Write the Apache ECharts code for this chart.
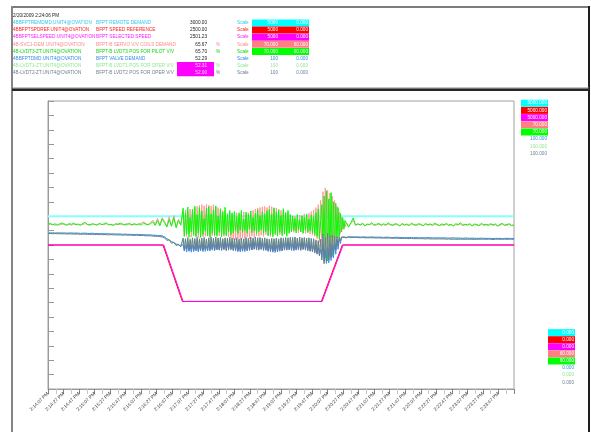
<!DOCTYPE html>
<html><head><meta charset="utf-8">
<script src="https://cdn.jsdelivr.net/npm/echarts@6/dist/echarts.min.js"></script>
<style>html,body{margin:0;padding:0;background:#fff}#c{width:591px;height:432px}</style>
</head><body><div id="c"></div>
<script>
// ---------- header / legend content ----------
const timestamp = '2/20/2009 2:24:06 PM';
const tags = ['4BBFPTREMDMD.UNIT4@OVATION','4BBFPTSPDREF.UNIT4@OVATION','4BBFPTSELSPEED.UNIT4@OVATION','4B-SVC1-DEM.UNIT4@OVATION','4B-LVDT3-ZT.UNIT4@OVATION','4BBFPTDMD.UNIT4@OVATION','4B-LVDT1-ZT.UNIT4@OVATION','4B-LVDT2-ZT.UNIT4@OVATION'];
const descs = ['BFPT REMOTE DEMAND','BFPT SPEED REFERENCE','BFPT SELECTED SPEED','BFPT-B SERVO V/V COILS DEMAND','BFPT-B LVDT3 POS FOR PILOT V/V','BFPT VALVE DEMAND','BFPT-B LVDT1 POS FOR OPER V/V','BFPT-B LVDT2 POS FOR OPER V/V'];
const currentValues = ['3000.00','2500.00','2501.23','65.67','65.70','52.29','52.31','52.00'];
const units = ['','','','%','%','','%','%'];
const scaleTop = [5000,5000,5000,70,70,100,100,100];
const scaleBottom = [0,0,0,60,60,0,0,0];
const headerScaleTop = ['5000','5000','5000','70.000','70.000','100','100','100'];
const headerScaleBottom = ['0.000','0.000','0.000','60.000','60.000','0.000','0.000','0.000'];
const plotScaleTop = ['5000.000','5000.000','5000.000','70.000','70.000','100.000','100.000','100.000'];
const plotScaleBottom = ['0.000','0.000','0.000','60.000','60.000','0.000','0.000','0.000'];
const lineColors = ['#88ffff','#ff0000','#ff00ff','#ff9a9a','#00ff00','#3d8ff0','#a0f5a0','#6a7c92'];
const textColors = ['#2fc8f0','#ff2020','#ff20ff','#ff8a8a','#10d810','#3a8ae8','#8ee88e','#6f8094'];
const boxColors = ['#00ffff','#ff0000','#ff00ff','#ff8080','#00ff00'];

// ---------- time axis ----------
const timeLabels = ['2:14:07 PM','2:14:27 PM','2:14:47 PM','2:15:07 PM','2:15:27 PM','2:15:47 PM','2:16:07 PM','2:16:27 PM','2:16:47 PM','2:17:07 PM','2:17:27 PM','2:17:47 PM','2:18:07 PM','2:18:27 PM','2:18:47 PM','2:19:07 PM','2:19:27 PM','2:19:47 PM','2:20:07 PM','2:20:27 PM','2:20:47 PM','2:21:07 PM','2:21:27 PM','2:21:47 PM','2:22:07 PM','2:22:27 PM','2:22:47 PM','2:23:07 PM','2:23:27 PM','2:23:47 PM'];
const tMax = 600;          // seconds shown (from 2:14:07 PM)
const labelStep = 20;      // seconds between labels
// sampling of the noisy traces: [start s, step s, count]
const sampleSegments = [[0, 3, 58], [174, 1.5, 140], [384, 3, 73]];

// ---------- series data ----------
const remoteDemandT = [0, 600];
const remoteDemand  = [3000, 3000];
const speedRefT = [0, 148, 173, 352, 379, 600];
const speedRef  = [2500, 2500, 1520, 1520, 2500, 2500];
const selSpeedT = [0, 149, 174, 353, 380, 600];
const selSpeed  = [2501, 2501, 1520, 1520, 2501, 2501];

const svcDemand = [
65.70,65.72,65.71,65.69,65.73,65.70,65.72,65.74,65.70,65.71,65.69,65.72,65.73,65.70,65.71,65.72,65.74,65.70,65.69,65.72,
65.71,65.70,65.73,65.72,65.70,65.74,65.71,65.70,65.69,65.72,65.73,65.71,65.70,65.72,65.74,65.71,65.69,65.72,65.70,65.73,
65.76,65.80,65.74,65.71,65.78,65.86,65.72,65.92,65.70,65.95,
65.82,65.66,65.98,65.64,66.02,65.62,65.90,65.68,
// event (1.5 s)
66.15,65.36,66.22,65.30,66.18,65.40,66.25,65.28,66.20,65.34,
66.28,65.30,66.34,65.26,66.38,65.32,66.40,65.28,66.36,65.30,
66.42,65.34,66.38,65.27,66.35,65.32,66.40,65.30,66.33,65.36,
66.30,65.32,66.25,65.38,66.20,65.30,66.18,65.35,66.10,65.28,
66.12,65.25,66.06,
65.20,66.08,65.18,66.12,65.22,66.04,65.16,66.10,65.24,66.15,
65.20,66.06,65.28,66.12,65.22,66.18,65.30,66.20,65.26,66.24,
65.32,66.28,65.30,66.30,65.34,66.32,65.30,66.34,65.36,66.30,
65.32,66.36,65.30,66.33,65.36,66.30,65.34,66.28,65.38,66.24,
65.36,66.20,65.40,66.16,65.38,66.12,65.42,66.10,65.40,66.06,
65.46,66.02,65.44,66.00,65.48,65.96,65.42,66.04,65.46,66.00,
65.44,66.08,65.40,66.04,65.42,66.10,65.38,66.16,65.34,66.22,
65.30,66.30,65.22,66.40,65.10,
66.55,64.95,66.85,64.70,66.98,64.60,66.90,64.75,66.80,64.90,
66.70,65.00,66.55,65.10,66.35,65.25,66.15,65.40,65.98,65.55,
65.85,65.62,
// after
65.78,65.64,65.74,65.86,65.70,65.72,65.69,65.73,65.68,65.71,65.70,65.74,65.68,65.70,65.72,65.69,65.71,65.68,65.73,65.70,
65.68,65.71,65.70,65.67,65.72,65.69,65.70,65.68,65.73,65.70,65.68,65.71,65.70,65.67,65.72,65.69,65.71,65.68,65.72,65.70,
65.67,65.70,65.69,65.72,65.68,65.70,65.66,65.71,65.69,65.73,65.68,65.70,65.69,65.71,65.66,65.70,65.69,65.67,65.72,65.68,
65.70,65.68,65.71,65.69,65.70,65.66,65.69,65.72,65.68,65.69,65.71,65.67,65.67];

const lvdt3 = [
65.72,65.75,65.70,65.74,65.68,65.73,65.77,65.71,65.69,65.74,65.72,65.76,65.70,65.73,65.68,65.75,65.79,65.71,65.70,65.74,
65.72,65.69,65.75,65.71,65.73,65.77,65.70,65.72,65.68,65.74,65.71,65.76,65.73,65.69,65.72,65.75,65.70,65.74,65.71,65.73,
65.69,65.76,65.72,65.70,65.74,65.80,65.68,65.85,65.66,65.90,
65.78,65.62,65.88,65.66,65.95,65.60,65.84,65.70,
// event (1.5 s)
66.28,65.30,66.10,65.38,66.32,65.27,65.95,65.45,66.24,65.33,
66.35,65.29,66.05,65.41,66.30,65.26,66.18,65.36,65.92,65.48,
66.27,65.31,66.33,65.28,66.08,65.40,66.22,65.34,66.36,65.30,
66.00,65.44,66.26,65.29,66.14,65.37,66.31,65.32,66.06,65.46,
66.20,65.35,66.12,
65.42,66.16,65.48,65.98,65.40,66.12,65.52,66.20,65.44,65.90,
65.50,66.14,65.41,66.06,65.55,66.18,65.43,65.96,65.49,66.10,
65.38,66.22,65.46,66.02,65.52,66.15,65.40,66.08,65.47,66.19,
65.33,66.25,65.36,66.08,65.29,66.28,65.40,66.15,65.31,66.22,
65.44,66.02,65.32,66.26,65.38,66.12,65.30,66.20,65.42,66.05,
65.45,66.00,65.50,65.92,65.42,66.06,65.53,65.88,65.46,66.02,
65.40,65.96,65.51,66.08,65.44,65.90,65.48,66.04,65.41,65.98,
65.36,66.12,65.30,66.25,65.20,
65.80,66.40,64.90,66.70,64.55,66.88,64.45,66.60,64.70,66.82,
64.60,66.50,64.85,66.45,65.10,66.30,65.25,66.10,65.45,65.95,
65.55,65.85,
// after
65.82,65.62,65.78,65.94,65.68,65.74,65.70,65.76,65.66,65.73,65.71,65.78,65.69,65.72,65.75,65.68,65.74,65.70,65.77,65.71,
65.69,65.74,65.72,65.66,65.75,65.70,65.73,65.68,65.76,65.71,65.69,65.74,65.72,65.67,65.75,65.70,65.73,65.69,65.76,65.71,
65.68,65.73,65.70,65.75,65.69,65.72,65.66,65.74,65.71,65.77,65.69,65.72,65.70,65.74,65.67,65.73,65.71,65.68,65.75,65.70,
65.72,65.69,65.74,65.70,65.73,65.66,65.72,65.75,65.69,65.71,65.74,65.68,65.70];

const valveDemand = [
54.2,54.2,54.2,54.1,54.2,54.2,54.1,54.2,54.1,54.1,54.2,54.1,54.1,54.1,54.0,54.1,54.1,54.0,54.0,54.1,
54.0,54.0,53.9,54.0,53.9,53.9,53.9,53.8,53.9,53.8,53.8,53.8,53.7,53.8,53.7,53.7,53.7,53.6,53.7,53.6,
53.6,53.6,53.5,53.5,53.5,53.4,53.4,53.3,53.3,53.2,
52.8,52.2,51.7,51.2,50.8,50.3,50.0,49.6,
// event (1.5 s)
50.2,47.9,49.8,47.6,50.4,47.8,49.9,47.5,50.1,47.7,
49.6,47.9,50.3,47.6,49.8,48.0,50.5,47.7,50.0,47.8,
49.7,48.1,50.4,47.9,50.2,48.2,50.6,48.0,50.1,48.3,
50.5,48.2,50.8,48.4,50.6,48.5,50.9,48.3,50.7,48.6,
50.8,48.4,50.6,
48.2,50.4,47.9,50.2,47.7,50.0,47.6,49.8,47.8,50.1,
47.7,50.3,47.9,50.5,48.1,50.7,48.3,50.9,48.5,51.0,
48.4,50.8,48.6,51.1,48.5,50.9,48.3,50.6,48.1,50.4,
47.8,50.1,47.6,49.9,47.5,49.8,47.4,50.0,47.6,50.2,
47.8,50.4,48.0,50.6,48.2,50.8,48.4,50.9,48.3,50.7,
48.1,50.5,48.0,50.3,48.2,50.6,48.4,50.8,48.5,50.9,
48.6,50.7,48.4,50.5,48.2,50.3,48.0,50.1,47.8,49.9,
47.6,49.5,47.0,49.0,46.5,
48.5,45.8,49.8,44.5,48.6,43.6,49.2,43.8,48.8,44.6,
50.2,45.5,50.8,46.8,51.6,48.5,52.2,50.5,52.7,52.4,
52.8,52.6,
// after
52.6,52.9,52.8,52.8,52.8,52.8,52.7,52.8,52.8,52.7,52.7,52.8,52.7,52.7,52.7,52.7,52.6,52.7,52.7,52.6,
52.6,52.6,52.7,52.6,52.6,52.6,52.5,52.6,52.6,52.5,52.6,52.5,52.5,52.5,52.5,52.6,52.5,52.5,52.4,52.5,
52.5,52.4,52.5,52.4,52.4,52.4,52.5,52.4,52.4,52.4,52.3,52.4,52.4,52.3,52.4,52.3,52.3,52.3,52.4,52.3,
52.3,52.3,52.3,52.2,52.3,52.3,52.3,52.2,52.3,52.3,52.3,52.2,52.29];

const lvdt1 = [
54.3,54.2,54.3,54.2,54.2,54.2,54.2,54.1,54.2,54.2,54.1,54.1,54.2,54.1,54.1,54.0,54.1,54.1,54.0,54.0,
54.0,54.0,54.0,53.9,53.9,53.9,53.9,53.9,53.8,53.8,53.8,53.8,53.7,53.7,53.7,53.7,53.6,53.7,53.6,53.6,
53.5,53.6,53.5,53.5,53.5,53.4,53.3,53.3,53.2,53.1,
52.9,52.0,51.9,51.0,51.0,50.2,50.4,49.8,
// event (1.5 s)
52.2,49.0,52.5,48.8,52.0,49.2,52.6,48.9,52.3,49.1,
52.4,48.7,52.1,49.3,52.6,48.8,52.2,49.0,52.5,49.2,
52.0,48.9,52.4,49.4,52.6,49.1,52.3,49.5,52.7,49.0,
52.5,49.3,52.4,49.2,52.2,48.9,52.3,49.1,52.5,49.0,
52.4,49.2,52.3,
48.9,52.1,48.7,52.3,48.8,52.0,48.6,52.4,48.9,52.2,
49.0,52.5,49.2,52.4,49.1,52.6,49.3,52.5,49.0,52.3,
49.2,52.6,49.4,52.5,49.1,52.3,49.0,52.4,48.8,52.2,
48.7,52.1,48.5,52.3,48.8,52.0,48.6,52.4,48.9,52.2,
49.2,52.5,49.4,52.6,49.0,52.3,49.5,52.7,49.1,52.4,
49.2,52.5,49.4,52.6,49.0,52.3,49.5,52.7,49.1,52.4,
49.3,52.5,49.0,52.2,48.8,52.4,48.6,52.1,48.4,52.0,
48.0,51.6,47.4,51.2,47.0,
51.5,45.2,53.2,44.0,52.4,44.6,53.4,45.0,52.8,46.0,
53.0,47.2,52.9,48.6,52.8,50.0,52.9,51.5,52.8,52.5,
52.8,52.7,
// after
52.7,52.9,52.8,52.8,52.8,52.7,52.8,52.8,52.7,52.7,52.8,52.7,52.7,52.7,52.7,52.6,52.7,52.7,52.6,52.6,
52.6,52.7,52.6,52.6,52.6,52.5,52.6,52.6,52.5,52.5,52.6,52.5,52.5,52.5,52.5,52.5,52.4,52.5,52.5,52.4,
52.4,52.5,52.4,52.4,52.4,52.4,52.4,52.3,52.4,52.4,52.3,52.4,52.3,52.3,52.3,52.4,52.3,52.3,52.3,52.3,
52.3,52.3,52.2,52.3,52.3,52.3,52.3,52.2,52.3,52.3,52.3,52.3,52.31];

const lvdt2 = [
54.0,54.0,53.9,54.0,53.9,53.9,53.9,53.9,53.8,53.9,53.8,53.8,53.8,53.8,53.7,53.8,53.7,53.7,53.7,53.7,
53.6,53.7,53.6,53.6,53.6,53.6,53.5,53.6,53.5,53.5,53.5,53.5,53.4,53.5,53.4,53.4,53.4,53.3,53.4,53.3,
53.3,53.3,53.2,53.2,53.2,53.1,53.0,53.0,52.9,52.8,
52.5,51.6,51.8,50.6,50.9,49.8,50.2,49.4,
// event (1.5 s)
52.4,48.2,52.1,48.6,52.6,48.0,51.9,48.4,52.5,48.1,
52.2,48.5,52.7,48.0,52.0,48.3,52.4,48.2,52.6,48.6,
52.1,48.0,52.5,48.4,52.8,48.6,52.3,48.2,52.7,48.5,
52.4,48.3,52.6,48.1,52.2,48.4,52.5,48.0,52.3,48.2,
52.6,48.5,52.4,
48.1,52.2,48.3,52.5,47.9,52.0,48.2,52.4,48.0,52.1,
48.4,52.6,48.2,52.3,48.5,52.7,48.3,52.4,48.6,52.8,
48.4,52.5,48.2,52.6,48.5,52.3,48.1,52.5,48.3,52.2,
47.9,52.0,48.1,52.3,47.8,52.2,48.0,52.4,47.7,52.1,
48.2,52.5,48.0,52.3,48.4,52.6,48.2,52.4,48.5,52.7,
48.4,52.6,48.2,52.8,48.5,52.4,48.3,52.7,48.1,52.5,
48.4,52.6,48.2,52.4,48.0,52.5,47.8,52.3,47.6,52.2,
47.2,51.8,46.8,51.5,46.2,
52.0,44.8,53.8,43.5,52.6,44.2,54.0,44.8,53.2,45.6,
53.4,46.8,53.0,48.2,52.9,49.8,52.8,51.4,52.7,52.3,
52.6,52.5,
// after
52.5,52.7,52.6,52.6,52.6,52.6,52.5,52.6,52.5,52.5,52.5,52.5,52.5,52.4,52.5,52.4,52.4,52.4,52.4,52.4,
52.3,52.4,52.3,52.3,52.3,52.3,52.3,52.2,52.3,52.2,52.2,52.2,52.2,52.2,52.1,52.2,52.1,52.1,52.1,52.1,
52.1,52.1,52.1,52.0,52.1,52.0,52.0,52.0,52.0,52.0,52.0,52.0,52.0,52.0,52.0,51.9,52.0,52.0,52.0,52.0,
52.0,52.0,52.0,51.9,52.0,52.0,52.0,52.0,52.0,52.0,52.0,52.0,52.00];

// ---------- build ----------
const FONT = 'Liberation Sans, Arial, sans-serif';
const FS = 4.7;
const sampleTimes = [];
sampleSegments.forEach(([s, st, n]) => { for (let k = 0; k < n; k++) sampleTimes.push(s + k * st); });
const pairs = (ts, vs) => vs.map((v, i) => [ts[i], v]);
const sampled = vs => pairs(sampleTimes, vs);

const g = [];
function txt(x, y, s, fill, align) {
  g.push({type:'text', x:x, y:y, silent:true, z:10,
    style:{text:s, fill:fill, fontSize:FS, fontFamily:FONT, align:align||'left', textAlign:align||'left', verticalAlign:'middle', textVerticalAlign:'middle'}});
}
function box(x, y, w, h, fill) {
  g.push({type:'rect', silent:true, z:5, shape:{x:x, y:y, width:w, height:h}, style:{fill:fill}});
}
// frame
box(11, 6, 579, 2, '#7c7c7c');
box(11, 6, 2, 426, '#858585');
box(588, 6, 2, 426, '#1e1e1e');
box(12, 87.5, 577, 1, '#8a8a8a');
box(12, 88.5, 577, 2.5, '#262626');
// header
txt(13, 15.7, timestamp, '#222');
for (let i = 0; i < 8; i++) {
  const yc = 23 + 7.1 * i;
  txt(13, yc, tags[i], textColors[i]);
  txt(96, yc, descs[i], textColors[i]);
  let valFill = '#222';
  if (i >= 6) { box(177, yc - 3.6, 37, 7.2, '#ff00ff'); valFill = '#ffe0ff'; }
  txt(207, yc, currentValues[i], valFill, 'right');
  if (units[i]) txt(216, yc, units[i], textColors[i]);
  txt(237, yc, 'Scale', textColors[i]);
  let numFill = textColors[i];
  if (i < 5) { box(252, yc - 3.5, 57, 7, boxColors[i]); numFill = '#ffffff'; }
  txt(278, yc, headerScaleTop[i], numFill, 'right');
  txt(308, yc, headerScaleBottom[i], numFill, 'right');
}
// scale labels in plot
for (let i = 0; i < 8; i++) {
  const yt = 103.2 + 7.2 * i, yb = 332.6 + 7.1 * i;
  let f = textColors[i];
  if (i < 5) { box(521, yt - 3.5, 27, 7, boxColors[i]); box(548, yb - 3.5, 27, 7, boxColors[i]); f = '#ffffff'; }
  txt(547, yt, plotScaleTop[i], f, 'right');
  txt(574, yb, plotScaleBottom[i], f, 'right');
}

const ln = (name, data, yi, color, w, z) => ({
  name:name, type:'line', yAxisIndex:yi, data:data, showSymbol:false, symbol:'none',
  lineStyle:{color:color, width:w||1}, itemStyle:{color:color}, z:z||2, animation:false, silent:true
});

const chart = echarts.init(document.getElementById('c'), null, {renderer:'canvas'});
chart.setOption({
  animation:false,
  backgroundColor:'#ffffff',
  grid:{left:48, top:101, width:466, height:288, show:true, borderColor:'#a0a0a0', borderWidth:1, backgroundColor:'transparent'},
  xAxis:{type:'value', min:0, max:tMax, interval:labelStep,
    axisLine:{show:true, lineStyle:{color:'#999'}},
    axisTick:{show:true, length:5, lineStyle:{color:'#808080'}},
    minorTick:{show:true, splitNumber:2, length:5, lineStyle:{color:'#c8c8c8'}},
    splitLine:{show:false},
    axisLabel:{rotate:45, fontSize:4.8, fontFamily:FONT, color:'#444', margin:4, showMaxLabel:false,
      formatter:v => timeLabels[Math.round(v / labelStep)] || ''}},
  yAxis:[
    {type:'value', position:'right', min:scaleBottom[5], max:scaleTop[5], interval:5,
      axisLine:{show:true, lineStyle:{color:'#999'}},
      axisTick:{show:true, inside:false, length:6, lineStyle:{color:'#999'}},
      axisLabel:{show:false}, splitLine:{show:false}},
    {type:'value', min:scaleBottom[0], max:scaleTop[0], show:false},
    {type:'value', min:scaleBottom[3], max:scaleTop[3], show:false}
  ],
  graphic:g,
  series:[
    ln(descs[0], pairs(remoteDemandT, remoteDemand), 1, lineColors[0], 2, 1),
    ln(descs[3], sampled(svcDemand), 2, lineColors[3], 1, 2),
    ln(descs[4], sampled(lvdt3), 2, lineColors[4], 1, 3),
    ln(descs[6], sampled(lvdt1), 0, lineColors[6], 1, 4),
    ln(descs[5], sampled(valveDemand), 0, lineColors[5], 1, 5),
    ln(descs[7], sampled(lvdt2), 0, lineColors[7], 1, 6),
    ln(descs[1], pairs(speedRefT, speedRef), 1, lineColors[1], 1, 7),
    ln(descs[2], pairs(selSpeedT, selSpeed), 1, lineColors[2], 1, 8)
  ]
});
</script></body></html>
